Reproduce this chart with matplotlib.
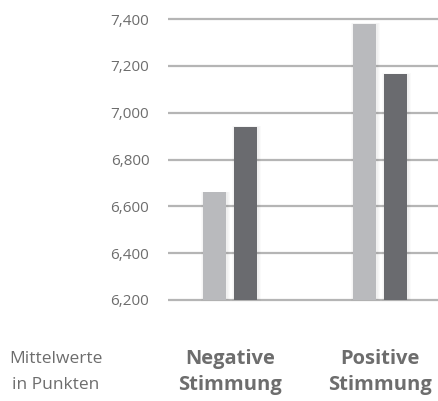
import matplotlib
matplotlib.use("Agg")
import matplotlib.pyplot as plt
import numpy as np

categories = ["Negative\nStimmung", "Positive\nStimmung"]
series_light = [6660, 7380]
series_dark = [6940, 7165]
yticks = [6200, 6400, 6600, 6800, 7000, 7200, 7400]
axis_note = "Mittelwerte\nin Punkten"

W, H = 438, 401
fig = plt.figure(figsize=(W / 100, H / 100), dpi=100)
plt.rcParams['font.family'] = ['Open Sans', 'DejaVu Sans']

ymin, ymax = 6150, 7450
base = 6200
ax = fig.add_axes([168 / W, 1 - 311.7 / H, 1 - 168 / W, (311.7 - 7.3) / H])
ax.set_ylim(ymin, ymax)
ax.set_xlim(-0.413, 1.387)

x = np.arange(len(categories))
bw = 0.155
off = 0.103
light = "#b9babd"
dark = "#6a6b6f"

# soft shadow
for vals, dx in [(series_light, -off), (series_dark, off)]:
    for k in range(3):
        ax.bar(x + dx + 0.006, np.array(vals) - base + 3 * k, bottom=base - 1.5 * k, width=bw + 0.012 * (k + 1),
               color="black", alpha=0.02, zorder=2, linewidth=0)

ax.bar(x - off, np.array(series_light) - base, bottom=base, width=bw, color=light, zorder=3, linewidth=0)
ax.bar(x + off, np.array(series_dark) - base, bottom=base, width=bw, color=dark, zorder=3, linewidth=0)

for t in yticks:
    ax.axhline(t, color="#b5b5b5", lw=1.6, zorder=1)

ax.set_yticks(yticks)
ax.set_yticklabels([f"{t:,}" for t in yticks], color="#6d6d6d", fontsize=11)
ax.tick_params(axis="y", length=0, pad=13.5)
ax.set_xticks([])
for s in ax.spines.values():
    s.set_visible(False)

# bottom labels
line_y = [359, 385]
for ly, txt in zip(line_y, axis_note.split("\n")):
    fig.text(56 / W, 1 - ly / H, txt, ha="center", va="center", fontsize=12.5, color="#6d6d6d")
for xi, lab in zip(x, categories):
    xd = ax.transData.transform((xi, 0))[0]
    for ly, txt in zip(line_y, lab.split("\n")):
        fig.text(xd / W, 1 - ly / H, txt, ha="center", va="center", fontsize=14.5,
                 fontweight="bold", color="#6d6d6d")

fig.savefig("out.png", dpi=100)
